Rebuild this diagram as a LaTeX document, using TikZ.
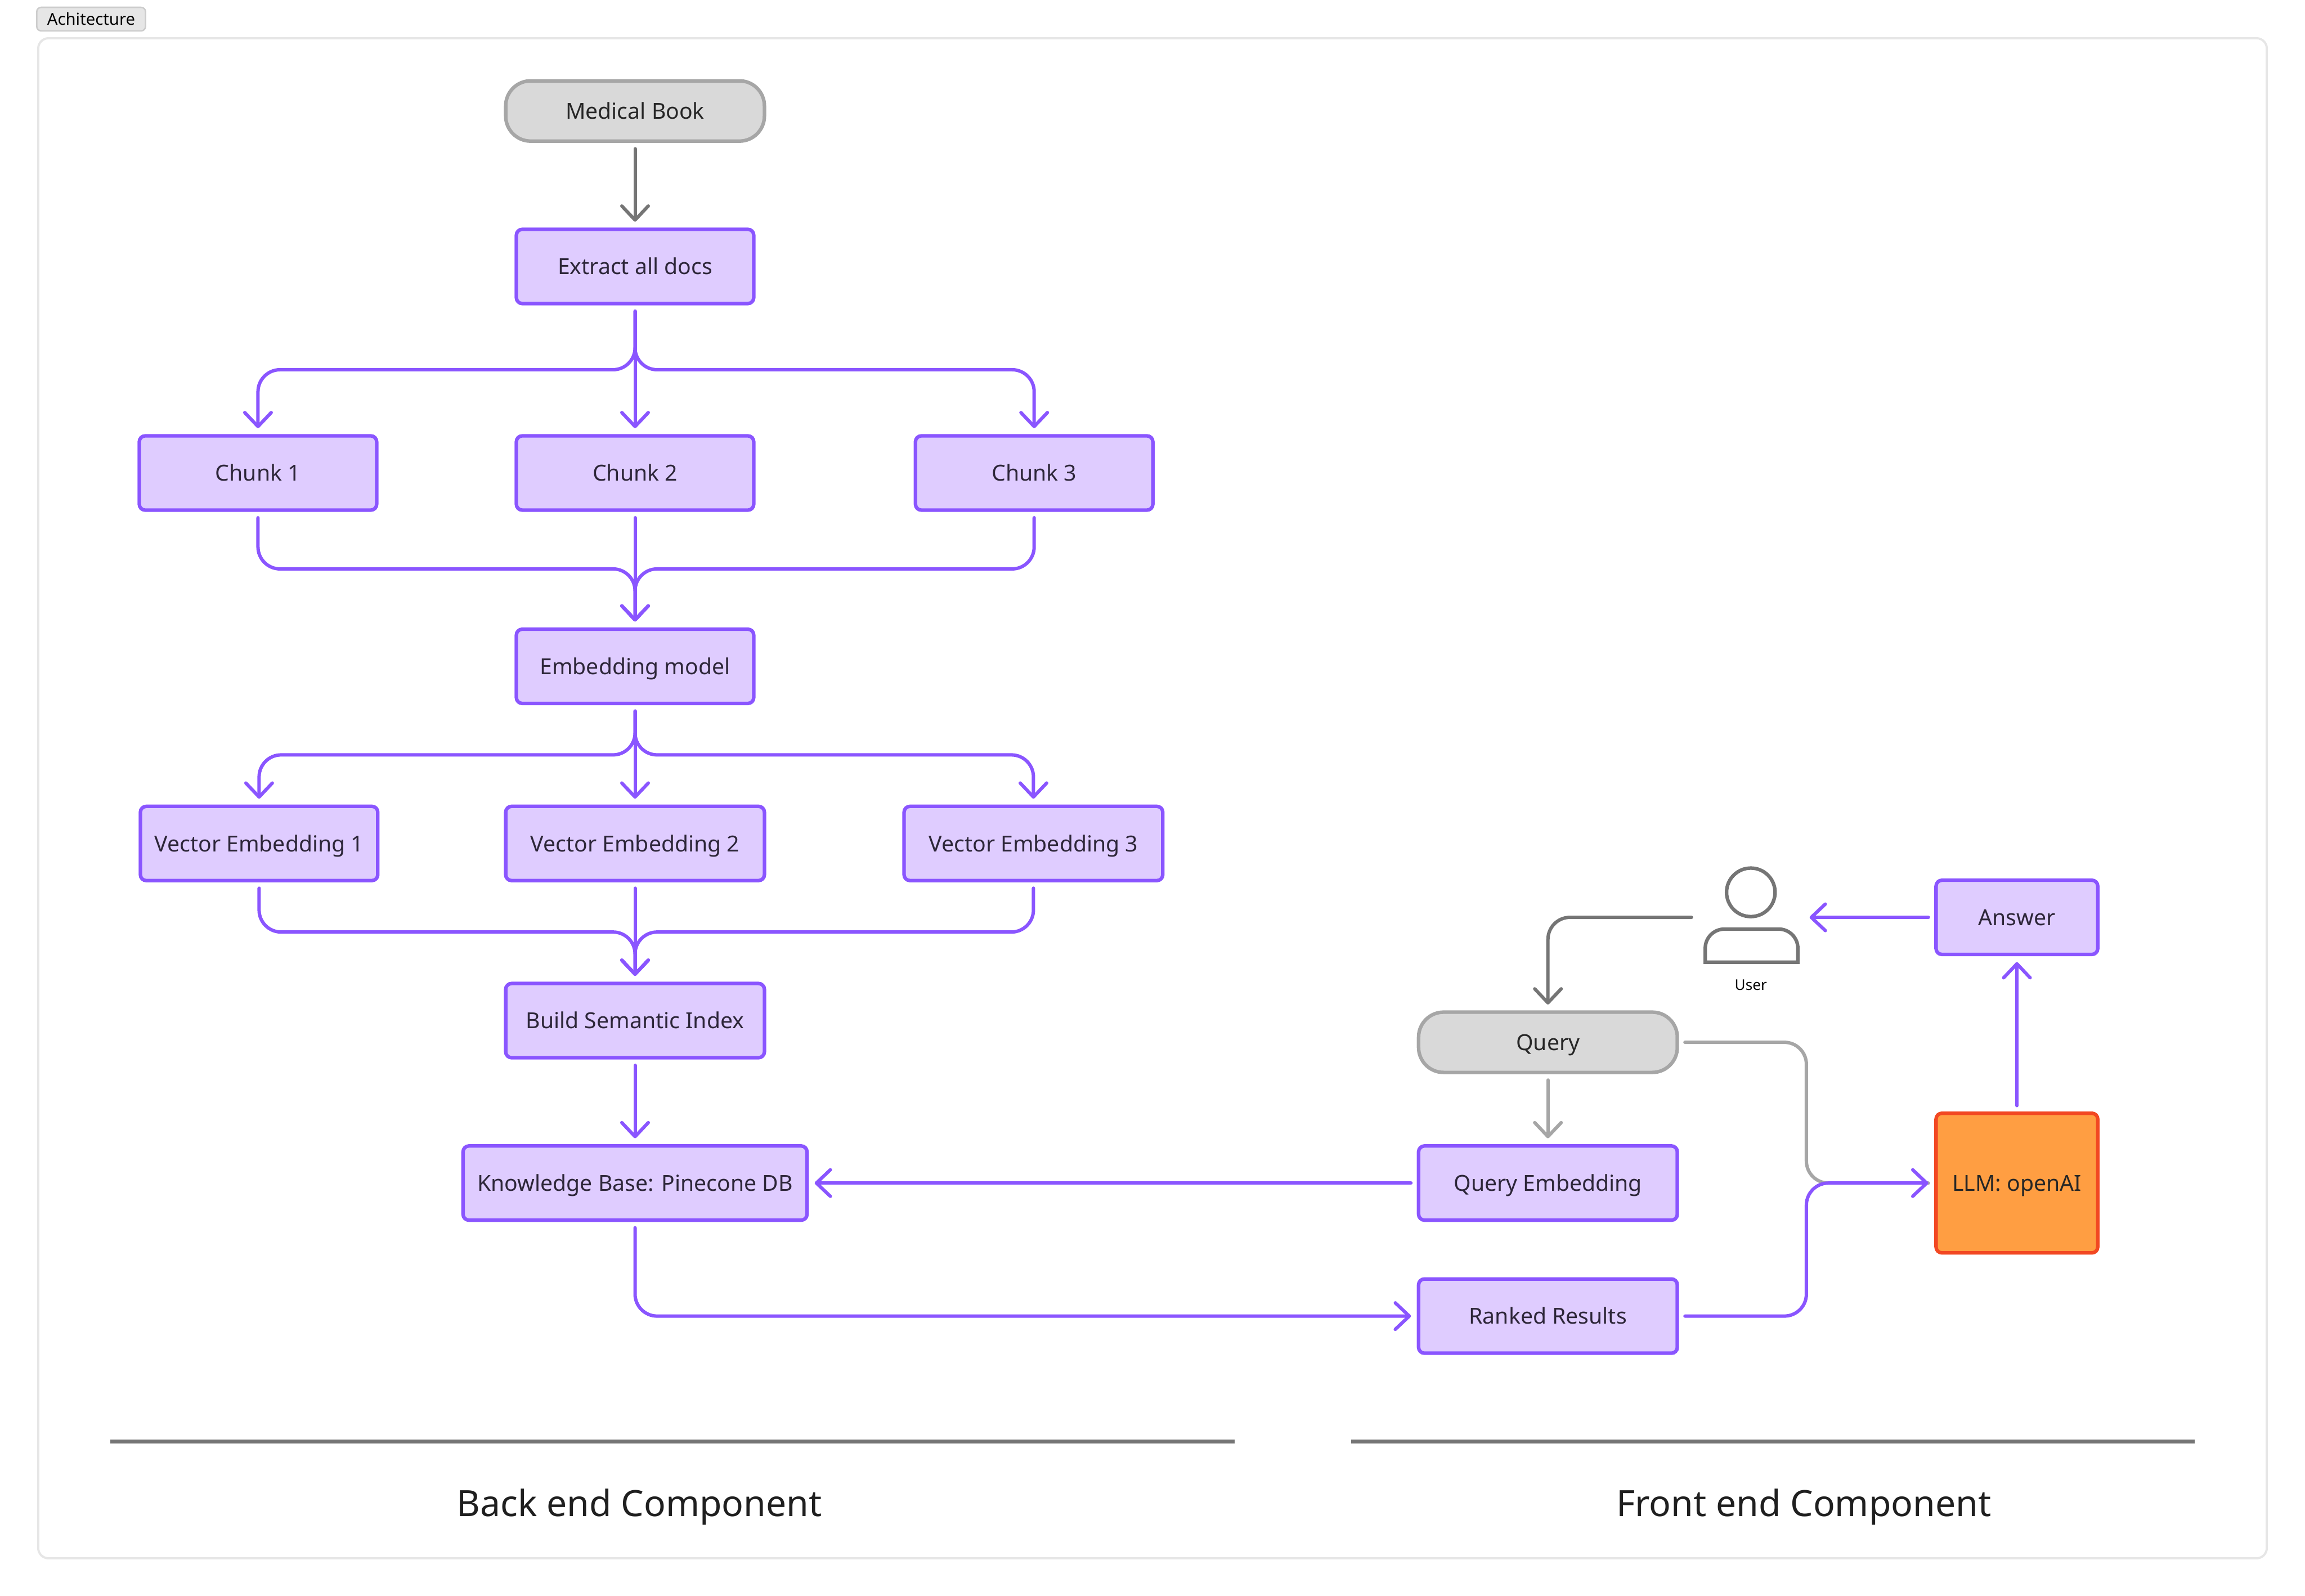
\documentclass[tikz,border=0pt]{standalone}
\usepackage{fontspec}
\setmainfont{Noto Sans}
\usetikzlibrary{arrows.meta, positioning}
\definecolor{pstroke}{HTML}{8A55FF}
\definecolor{pfill}{HTML}{DFCCFF}
\definecolor{ptext}{HTML}{2D2639}
\definecolor{gstroke}{HTML}{A6A6A6}
\definecolor{gfill}{HTML}{D9D9D9}
\definecolor{dgray}{HTML}{757575}
\definecolor{ostroke}{HTML}{F24822}
\definecolor{ofill}{HTML}{FF9E42}
\definecolor{framecol}{HTML}{E6E6E6}
\tikzset{
	pbox/.style={draw=pstroke, fill=pfill, line width=2.4pt, rounded corners=4pt,
		minimum width=#1, minimum height=50.5pt, inner sep=0pt, align=center,
		font=\fontsize{15}{18}\selectfont, text=ptext, text height=12.5pt, text depth=1.5pt},
	pbox/.default=161.5pt,
	gbox/.style={pbox=176pt, draw=gstroke, fill=gfill, rounded corners=17pt,
		minimum height=41pt, text=black!85},
	obox/.style={pbox=110pt, draw=ostroke, fill=ofill, minimum height=95pt, text=black!85},
	marr/.style={-{Straight Barb[length=9.5pt, width=18pt, round]}, line width=2.3pt, draw=pstroke,
		line cap=round, rounded corners=15pt, shorten >=4pt, shorten <=4pt},
	mline/.style={marr, -},
	caption/.style={font=\fontsize{24.6}{28}\selectfont, text=black!88, inner sep=0pt}
}
\begin{document}
\begin{tikzpicture}[x=1pt, y=-1pt]
	\useasboundingbox (0,0) rectangle (1568,1085.5);
	\draw[framecol, line width=1.5pt, rounded corners=7pt] (26,26) rectangle (1542,1060);
	\node[draw=black!20, fill=framecol, rounded corners=3pt, line width=1pt, minimum width=74pt,
		minimum height=16pt, inner sep=0pt, font=\fontsize{11.2}{12}\selectfont] (title) at (62,13) {Achitecture};

	% back end column
	\node[gbox] (book) at (432,75.5) {Medical Book};
	\node[pbox, below=57.6pt of book] (extract) {Extract all docs};
	\node[pbox, below=87.6pt of extract] (chunk2) {Chunk 2};
	\node[pbox, left=92.6pt of chunk2] (chunk1) {Chunk 1};
	\node[pbox, right=107.6pt of chunk2] (chunk3) {Chunk 3};
	\node[pbox, below=78.6pt of chunk2] (embed) {Embedding model};
	\node[pbox=176pt, below=67.6pt of embed] (vec2) {Vector Embedding 2};
	\node[pbox, left=84.6pt of vec2] (vec1) {Vector Embedding 1};
	\node[pbox=176pt, right=92.6pt of vec2] (vec3) {Vector Embedding 3};
	\node[pbox=176pt, below=67.6pt of vec2] (index) {Build Semantic Index};
	\node[pbox=234pt, below=57.6pt of index] (kb) {Knowledge Base: Pinecone DB};

	% front end column
	\node[pbox=176pt, right=413.6pt of kb] (qembed) {Query Embedding};
	\node[gbox, above=47.6pt of qembed] (query) {Query};
	\node[pbox=176pt, below=37.6pt of qembed] (ranked) {Ranked Results};
	\node[obox, right=173.6pt of qembed] (llm) {LLM: openAI};
	\node[pbox=110pt, above=105.6pt of llm] (answer) {Answer};

	% user icon
	\node[left=88.8pt of answer, minimum width=72pt, minimum height=64pt, inner sep=0pt] (user) {};
	\node[draw=dgray, line width=2.4pt, circle, minimum size=33pt, inner sep=0pt] (head) at (1191,607) {};
	\draw[dgray, line width=2.4pt] (1160,654.5) -- (1160,645) [rounded corners=13pt] -- (1160,632) -- (1223,632)
		[sharp corners] -- (1223,654.5) -- cycle;
	\node[inner sep=0pt, font=\fontsize{10}{12}\selectfont] (userlabel) at (1191,670) {User};

	\coordinate[below=43.8pt of extract] (splitA);
	\coordinate[below=38.8pt of chunk2] (joinA);
	\coordinate[below=33.8pt of embed] (splitB);
	\coordinate[below=33.8pt of vec2] (joinB);
	\coordinate[left=87pt of llm.west] (merge);

	\draw[marr, draw=dgray] (book) -- (extract);
	\draw[marr] (extract) -- (chunk2);
	\draw[marr] (extract.south) -- (splitA) -| (chunk1.north);
	\draw[marr] (extract.south) -- (splitA) -| (chunk3.north);
	\draw[marr] (chunk2) -- (embed);
	\draw[marr] (chunk1.south) |- (joinA) -- (embed.north);
	\draw[marr] (chunk3.south) |- (joinA) -- (embed.north);
	\draw[marr] (embed) -- (vec2);
	\draw[marr] (embed.south) -- (splitB) -| (vec1.north);
	\draw[marr] (embed.south) -- (splitB) -| (vec3.north);
	\draw[marr] (vec2) -- (index);
	\draw[marr] (vec1.south) |- (joinB) -- (index.north);
	\draw[marr] (vec3.south) |- (joinB) -- (index.north);
	\draw[marr] (index) -- (kb);
	\draw[marr] (qembed) -- (kb);
	\draw[marr] (kb.south) |- (ranked.west);
	\draw[marr, draw=dgray] (user.west) -| (query.north);
	\draw[marr, draw=gstroke] (query) -- (qembed);
	\draw[mline, draw=gstroke] (query.east) -| (merge) -- (llm.west);
	\draw[marr] (ranked.east) -| (merge) -- (llm.west);
	\draw[marr] (llm) -- (answer);
	\draw[marr] (answer) -- (user.east);

	% section rules
	\coordinate (backL) at (75,980.5);
	\coordinate (backR) at (840,980.5);
	\coordinate (frontL) at (919,980.5);
	\coordinate (frontR) at (1493,980.5);
	\draw[dgray, line width=2.5pt] (backL) -- (backR);
	\draw[dgray, line width=2.5pt] (frontL) -- (frontR);
	\node[caption] (backlabel) at (435,1025) {Back end Component};
	\node[caption] (frontlabel) at (1227,1025) {Front end Component};
\end{tikzpicture}
\end{document}
